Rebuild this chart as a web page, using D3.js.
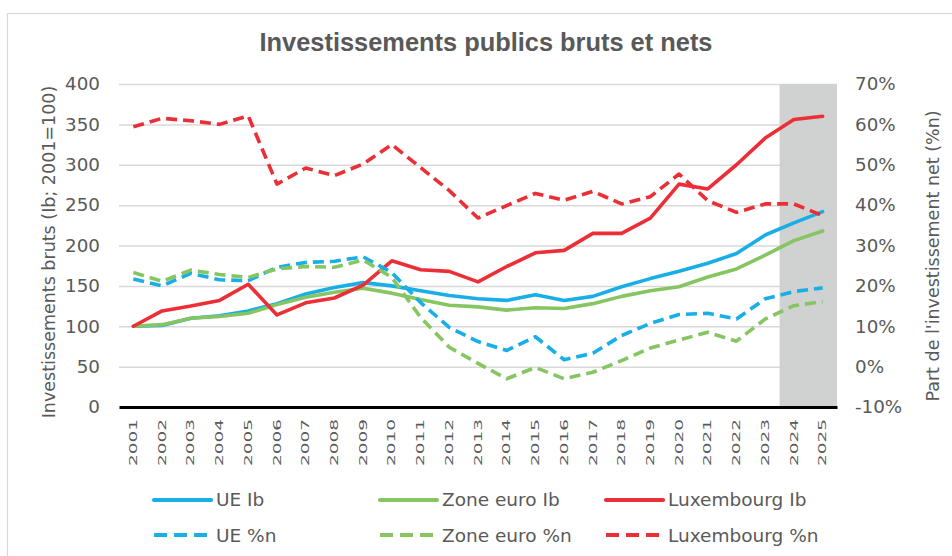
<!DOCTYPE html>
<html>
<head>
<meta charset="utf-8">
<script src="https://cdn.jsdelivr.net/npm/d3@7"></script>
<style>
  body { margin: 0; background: #ffffff; }
  svg { display: block; }
  text { font-family: "DejaVu Sans", Verdana, sans-serif; fill: #595959; }
</style>
</head>
<body>
<script>
'use strict';

// categories
const years = ["2001", "2002", "2003", "2004", "2005", "2006", "2007", "2008", "2009", "2010",
  "2011", "2012", "2013", "2014", "2015", "2016", "2017", "2018", "2019", "2020",
  "2021", "2022", "2023", "2024", "2025"];
const forecastYears = ["2024", "2025"];

// investissements bruts (2001=100), left axis
const ueIb = [100, 101, 110, 113, 119, 128, 140, 148, 154, 150, 144, 138, 134, 132, 139, 132, 137, 149, 159, 168, 178, 190, 213, 228, 242];
const zoneEuroIb = [100, 102, 110, 112, 116, 127, 136, 142, 147, 141, 133, 126, 124, 120, 123, 122, 128, 137, 144, 149, 161, 171, 188, 206, 218];
const luxIb = [100, 119, 125, 132, 152, 114, 129, 135, 151, 181, 170, 168, 155, 174, 191, 194, 215, 215, 234, 276, 270, 300, 333, 356, 360];

// part de l'investissement net (%), right axis
const ueN = [21.7, 20.0, 23.1, 21.5, 21.3, 24.6, 25.8, 26.1, 27.2, 23.3, 15.9, 9.7, 6.2, 4.0, 7.4, 1.7, 3.3, 7.7, 10.7, 12.9, 13.2, 11.8, 16.8, 18.6, 19.5];
const zoneEuroN = [23.3, 21.1, 23.9, 22.8, 22.1, 24.2, 24.8, 24.6, 26.4, 22.1, 12.2, 4.8, 0.8, -3.0, -0.2, -3.0, -1.4, 1.5, 4.6, 6.6, 8.5, 6.3, 11.8, 15.1, 16.1];
const luxN = [59.4, 61.5, 60.9, 60.0, 62.1, 45.2, 49.2, 47.3, 50.2, 55.0, 49.3, 43.6, 36.8, 39.9, 42.9, 41.2, 43.4, 40.3, 42.1, 47.7, 41.1, 38.2, 40.3, 40.3, 37.4];

// tick values
const leftTicks = [0, 50, 100, 150, 200, 250, 300, 350, 400];
const rightTicks = [-10, 0, 10, 20, 30, 40, 50, 60, 70];

const seriesNames = ["UE Ib", "Zone euro Ib", "Luxembourg Ib", "UE %n", "Zone euro %n", "Luxembourg %n"];

(function() {

  let svgContainer = "";

  const blue = "#18aee6";
  const green = "#86c561";
  const red = "#ec2f36";

  window.onload = function() {
    svgContainer = d3.select('body')
      .append('svg')
      .attr('width', 952)
      .attr('height', 556);

    makeChart();
  }

  function makeChart() {
    // chart frame
    svgContainer.append('rect')
      .attr('x', 7.5)
      .attr('y', 13.5)
      .attr('width', 960)
      .attr('height', 560)
      .style('fill', 'none')
      .style('stroke', '#d9d9d9')
      .style('stroke-width', 1.2);

    let scales = drawAxes();
    plotSeries(scales);
    makeLabels();
    makeLegend();
  }

  // draw gridlines, forecast band, axes and tick labels
  function drawAxes() {
    let xScale = d3.scaleBand()
      .domain(years)
      .range([119, 837])
      .padding(0);

    let yLeft = d3.scaleLinear()
      .domain([0, 400])
      .range([407, 84]);

    let yRight = d3.scaleLinear()
      .domain([-10, 70])
      .range([407, 84]);

    // gridlines
    let grid = d3.axisLeft(yLeft)
      .tickValues(leftTicks.filter(t => t > 0))
      .tickSize(-(837 - 119))
      .tickFormat('');
    let g = svgContainer.append('g')
      .attr('transform', 'translate(119, 0)')
      .call(grid);
    g.select('.domain').remove();
    g.selectAll('line')
      .style('stroke', '#d9d9d9')
      .style('stroke-width', 1.5);

    // forecast band
    svgContainer.append('rect')
      .attr('x', xScale(forecastYears[0]))
      .attr('y', yLeft(400))
      .attr('width', xScale(forecastYears[forecastYears.length - 1]) + xScale.bandwidth() - xScale(forecastYears[0]))
      .attr('height', yLeft(0) - yLeft(400))
      .style('fill', '#d0d1d1');

    // left axis labels
    let leftAxis = d3.axisLeft(yLeft)
      .tickValues(leftTicks)
      .tickSize(0)
      .tickPadding(0);
    let gl = svgContainer.append('g')
      .attr('transform', 'translate(100, 0)')
      .call(leftAxis);
    gl.select('.domain').remove();
    gl.selectAll('text')
      .style('font-size', '18.3px')
      .style('font-family', '"DejaVu Sans", Verdana, sans-serif')
      .style('fill', '#595959');

    // right axis labels
    let rightAxis = d3.axisRight(yRight)
      .tickValues(rightTicks)
      .tickSize(0)
      .tickPadding(0)
      .tickFormat(d => d + '%');
    let gr = svgContainer.append('g')
      .attr('transform', 'translate(855, 0)')
      .call(rightAxis);
    gr.select('.domain').remove();
    gr.selectAll('text')
      .style('font-size', '18.3px')
      .style('font-family', '"DejaVu Sans", Verdana, sans-serif')
      .style('fill', '#595959');

    // x axis (year labels rotated)
    let xAxis = d3.axisBottom(xScale)
      .tickSize(0)
      .tickPadding(0);
    let gx = svgContainer.append('g')
      .attr('transform', 'translate(0, 407)')
      .call(xAxis);
    gx.select('.domain')
      .style('stroke', '#000000')
      .style('stroke-width', 3);
    gx.selectAll('text')
      .attr('y', 0)
      .attr('dy', 0)
      .attr('text-anchor', 'end')
      .attr('dominant-baseline', 'central')
      .attr('transform', 'translate(0, 12) rotate(-90) scale(1, 0.6)')
      .style('font-size', '18.5px')
      .style('font-family', '"DejaVu Sans", Verdana, sans-serif')
      .style('fill', '#595959');

    return { x: xScale, yLeft: yLeft, yRight: yRight };
  }

  // draw the six lines
  function plotSeries(s) {
    let half = s.x.bandwidth() / 2;

    let leftLine = d3.line()
      .x((d, i) => s.x(years[i]) + half)
      .y(d => s.yLeft(d));

    let rightLine = d3.line()
      .x((d, i) => s.x(years[i]) + half)
      .y(d => s.yRight(d));

    let solid = [[ueIb, blue], [zoneEuroIb, green], [luxIb, red]];
    let dashed = [[ueN, blue], [zoneEuroN, green], [luxN, red]];

    solid.forEach(function(sr) {
      svgContainer.append('path')
        .datum(sr[0])
        .attr('d', leftLine)
        .style('fill', 'none')
        .style('stroke', sr[1])
        .style('stroke-width', 3.6)
        .style('stroke-linejoin', 'round')
        .style('stroke-linecap', 'round');
    });

    dashed.forEach(function(sr) {
      svgContainer.append('path')
        .datum(sr[0])
        .attr('d', rightLine)
        .style('fill', 'none')
        .style('stroke', sr[1])
        .style('stroke-width', 3.6)
        .style('stroke-linejoin', 'round')
        .style('stroke-dasharray', '11, 6');
    });
  }

  // title and axis titles
  function makeLabels() {
    svgContainer.append('text')
      .attr('x', 486)
      .attr('y', 51)
      .attr('text-anchor', 'middle')
      .style('font-family', '"Liberation Sans", Arial, sans-serif')
      .style('font-weight', 'bold')
      .style('font-size', '25.4px')
      .style('fill', '#595959')
      .text('Investissements publics bruts et nets');

    svgContainer.append('text')
      .attr('transform', 'translate(55, 252) rotate(-90)')
      .attr('text-anchor', 'middle')
      .style('font-size', '17.5px')
      .text('Investissements bruts (Ib; 2001=100)');

    svgContainer.append('text')
      .attr('transform', 'translate(939, 256) rotate(-90)')
      .attr('text-anchor', 'middle')
      .style('font-size', '17.5px')
      .text("Part de l'investissement net (%n)");
  }

  // legend, two rows of three
  function makeLegend() {
    let colors = [blue, green, red, blue, green, red];
    let colX = [154, 380, 606];
    let rowY = [500, 535];

    seriesNames.forEach(function(name, i) {
      let col = i % 3;
      let row = Math.floor(i / 3);
      let x0 = colX[col];
      let y0 = rowY[row];

      svgContainer.append('line')
        .attr('x1', x0)
        .attr('x2', row === 0 ? x0 + 57 : x0 + 53)
        .attr('y1', y0)
        .attr('y2', y0)
        .style('stroke', colors[i])
        .style('stroke-width', 4.2)
        .style('stroke-linecap', row === 0 ? 'round' : 'butt')
        .style('stroke-dasharray', row === 0 ? null : '13, 7');

      svgContainer.append('text')
        .attr('x', x0 + 62)
        .attr('y', row === 0 ? 506 : 542)
        .style('font-size', '18.5px')
        .text(name);
    });
  }
})();
</script>
</body>
</html>
